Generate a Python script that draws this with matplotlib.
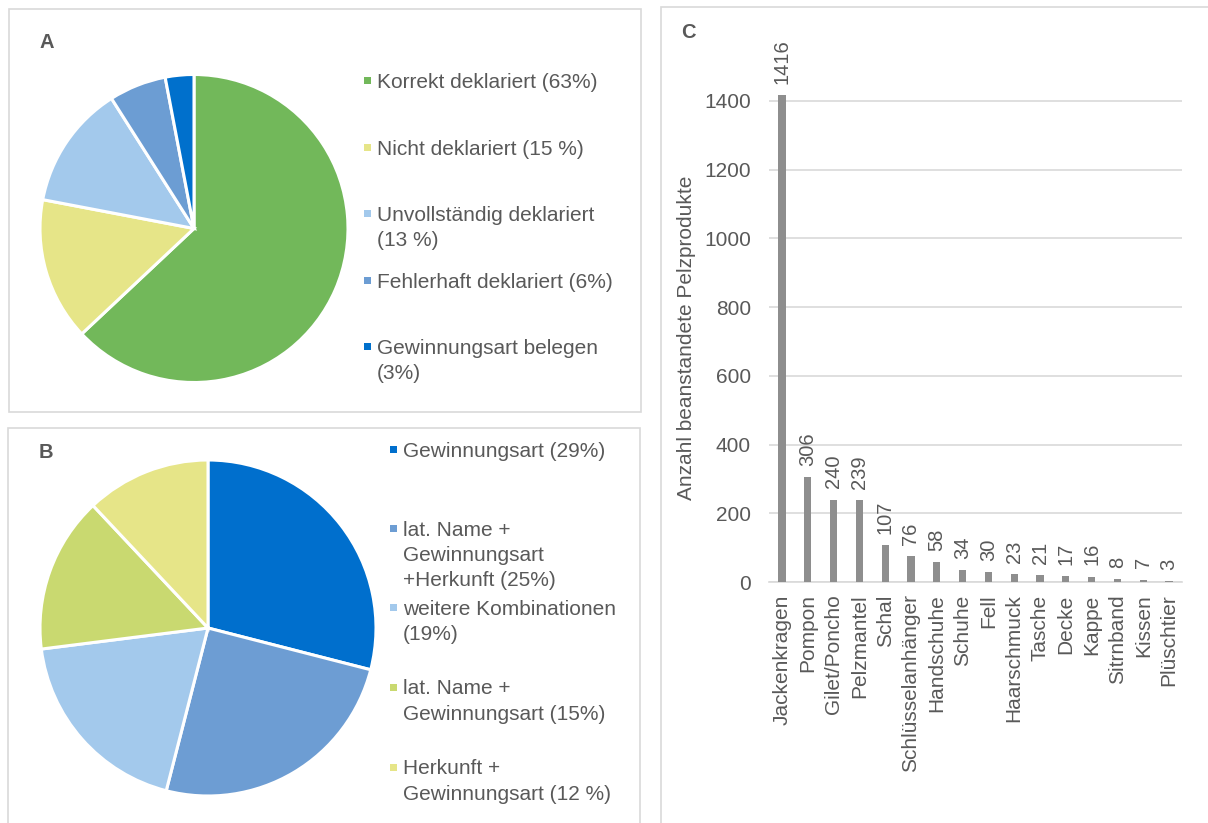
import matplotlib
matplotlib.use("Agg")
import matplotlib.pyplot as plt
from matplotlib.patches import Rectangle

plt.rcParams['font.family'] = ['Liberation Sans', 'DejaVu Sans']

# Panel A: Deklaration der Pelzprodukte
labels_a = ["Korrekt deklariert (63%)", "Nicht deklariert (15 %)",
            "Unvollständig deklariert\n(13 %)", "Fehlerhaft deklariert (6%)",
            "Gewinnungsart belegen\n(3%)"]
shares_a = [63, 15, 13, 6, 3]
colors_a = ['#72B85A', '#E6E588', '#A3C9EC', '#6C9DD3', '#0070CC']

# Panel B: fehlende Angaben
labels_b = ["Gewinnungsart (29%)", "lat. Name +\nGewinnungsart\n+Herkunft (25%)",
            "weitere Kombinationen\n(19%)", "lat. Name +\nGewinnungsart (15%)",
            "Herkunft +\nGewinnungsart (12 %)"]
shares_b = [29, 25, 19, 15, 12]
colors_b = ['#006FCD', '#6D9DD3', '#A3C9EC', '#C9D970', '#E6E588']

# Panel C: beanstandete Produkte
products = ["Jackenkragen", "Pompon", "Gilet/Poncho", "Pelzmantel", "Schal",
            "Schlüsselanhänger", "Handschuhe", "Schuhe", "Fell", "Haarschmuck",
            "Tasche", "Decke", "Kappe", "Sitrnband", "Kissen", "Plüschtier"]
counts = [1416, 306, 240, 239, 107, 76, 58, 34, 30, 23, 21, 17, 16, 8, 7, 3]
yticks_c = [0, 200, 400, 600, 800, 1000, 1200, 1400]

W, H = 1208, 823
TXT = '#595959'
GRID = '#D9D9D9'


def fx(x):
    return x / W


def fy(y):
    return 1 - y / H


fig = plt.figure(figsize=(W / 100, H / 100), dpi=100)

# panel frames
for x0, y0, x1, y1 in [(9, 9, 641, 412), (8, 428, 640, 830), (661, 7, 1215, 830)]:
    fig.add_artist(Rectangle((fx(x0), fy(y1)), fx(x1 - x0), (y1 - y0) / H,
                             transform=fig.transFigure, fill=False,
                             edgecolor=GRID, linewidth=1.2))


def pie_panel(cx, cy, r, shares, colors, labels, mx, baselines, letter, lpos):
    ax = fig.add_axes([fx(cx - r), fy(cy + r), 2 * r / W, 2 * r / H])
    ax.pie(shares, colors=colors, startangle=90, counterclock=False,
           wedgeprops=dict(edgecolor='white', linewidth=2.2))
    ax.set_xlim(-1, 1)
    ax.set_ylim(-1, 1)
    ax.axis('off')
    # legend entries: marker next to the first line, extra lines run below
    for lab, col, yb in zip(labels, colors, baselines):
        fig.add_artist(Rectangle((fx(mx - 3.5), fy(yb - 4)), 7 / W, 7 / H,
                                 transform=fig.transFigure, color=col, linewidth=0))
        for i, line in enumerate(lab.split('\n')):
            fig.text(fx(mx + 10), fy(yb + 25 * i), line, fontsize=15, color=TXT,
                     ha='left', va='baseline')
    fig.text(fx(lpos[0]), fy(lpos[1]), letter, fontsize=14.5, fontweight='bold',
             color=TXT, ha='center', va='center')


pie_panel(194, 228.5, 154, shares_a, colors_a, labels_a, 367,
          [88, 155, 221, 288, 354], 'A', (47, 43))
pie_panel(208, 628, 168, shares_b, colors_b, labels_b, 393,
          [457, 536, 615, 694.5, 774.5], 'B', (46, 453))

# bar chart
ax = fig.add_axes([fx(769), fy(582), (1182 - 769) / W, (582 - 94) / H])
xs = range(len(products))
ax.bar(xs, counts, width=0.28, color='#8E8E8E', zorder=3)
for x, v in zip(xs, counts):
    ax.annotate(str(v), (x, v), xytext=(0, 8), textcoords='offset points',
                rotation=90, ha='center', va='bottom', fontsize=14.5,
                color=TXT, annotation_clip=False)
ax.set_xlim(-0.5, len(products) - 0.5)
ax.set_ylim(0, 1420)
ax.set_yticks(yticks_c)
ax.set_xticks(list(xs))
ax.set_xticklabels(products, rotation=90)
ax.tick_params(axis='both', length=0, labelsize=15, labelcolor=TXT)
ax.tick_params(axis='y', pad=13)
ax.tick_params(axis='x', pad=9)
ax.grid(axis='y', color=GRID, linewidth=1.2, zorder=0)
for s in ['top', 'right', 'left']:
    ax.spines[s].set_visible(False)
ax.spines['bottom'].set_color(GRID)
ax.spines['bottom'].set_linewidth(1.2)
ax.set_ylabel("Anzahl beanstandete Pelzprodukte", fontsize=15, color=TXT)
ax.yaxis.set_label_coords(-0.176, 0.5)
fig.text(fx(688), fy(33), 'C', fontsize=14.5, fontweight='bold', color=TXT,
         ha='center', va='center')

fig.savefig('out.png', dpi=100, facecolor='white')
